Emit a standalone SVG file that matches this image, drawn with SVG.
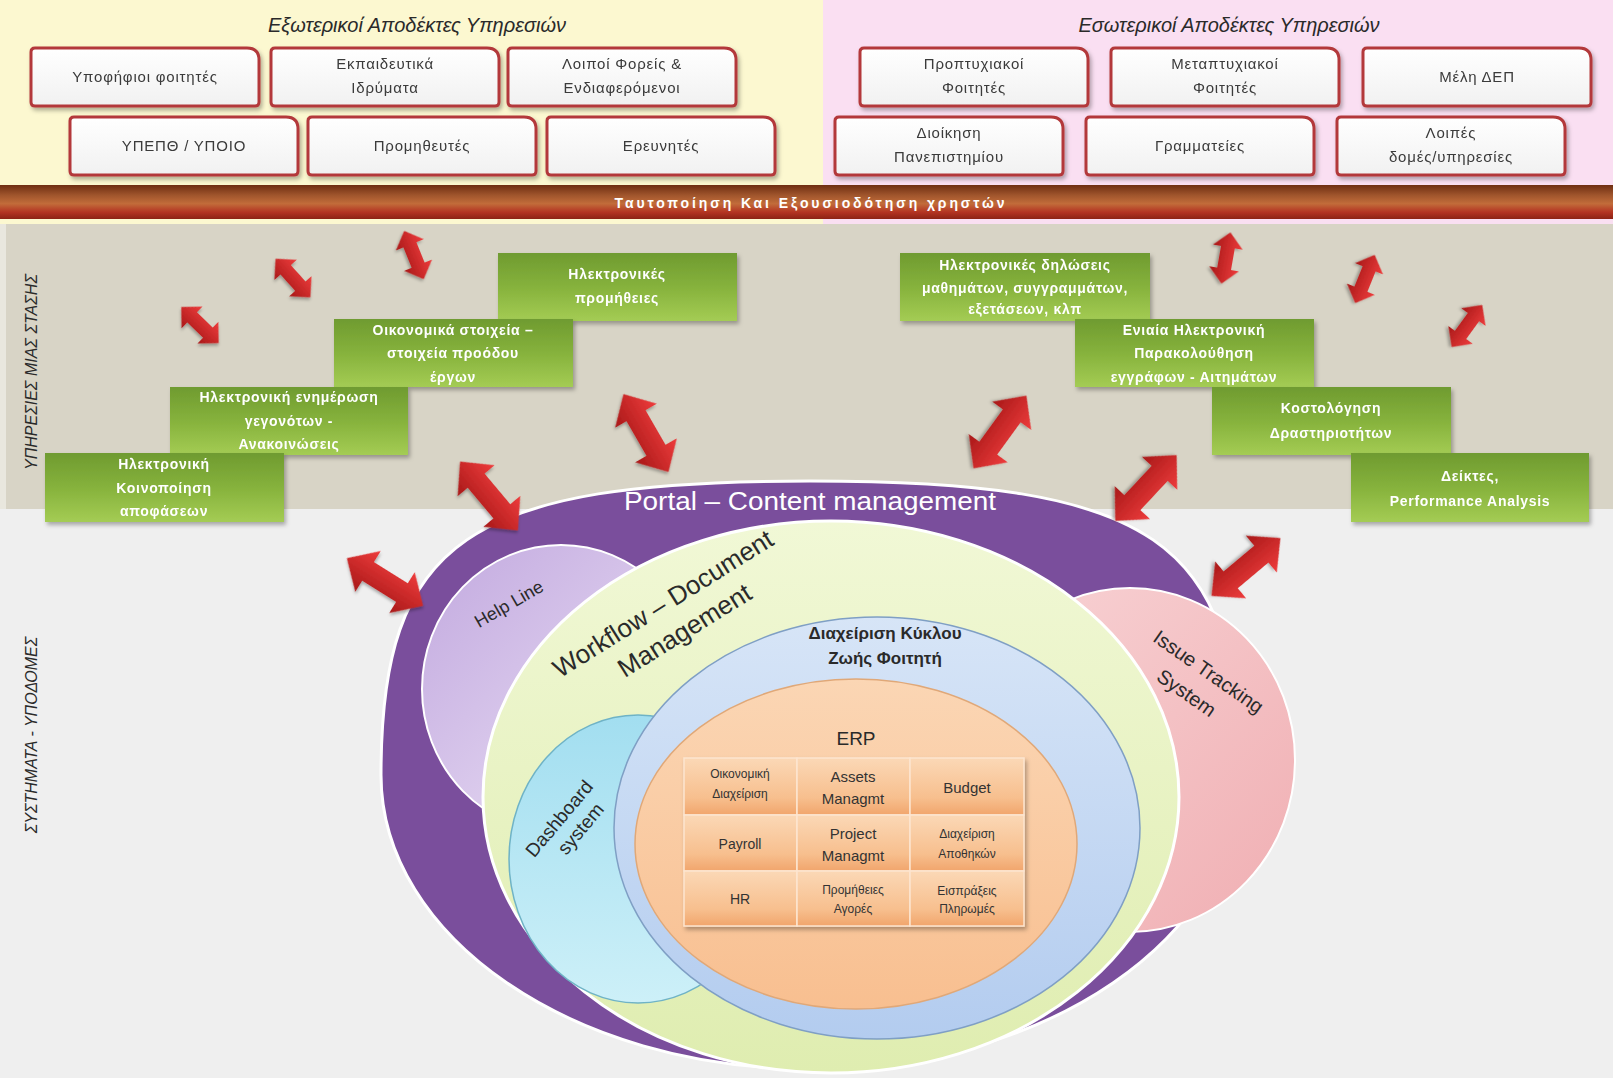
<svg xmlns="http://www.w3.org/2000/svg" xmlns:xlink="http://www.w3.org/1999/xlink" width="1613" height="1078" viewBox="0 0 1613 1078">
<defs>
<style>
.tb{font-family:"Liberation Sans",Arial,sans-serif;font-size:15px;fill:#3a3a3a;text-anchor:middle;letter-spacing:0.8px}
.gt{font-family:"Liberation Sans",Arial,sans-serif;font-size:14px;font-weight:bold;fill:#ffffff;text-anchor:middle;letter-spacing:0.7px}
.ttl{font-family:"Liberation Sans",Arial,sans-serif;font-size:20px;font-style:italic;fill:#2a2a2a;text-anchor:middle}
.vl{font-family:"Liberation Sans",Arial,sans-serif;font-size:16px;font-style:italic;fill:#2a2a2a;text-anchor:middle}
.sys{font-family:"Liberation Sans",Arial,sans-serif;fill:#2a2a2a;text-anchor:middle}
.cell{font-family:"Liberation Sans",Arial,sans-serif;fill:#333333;text-anchor:middle}
.arrow{fill:url(#arG);filter:url(#sh2)}
</style>
<linearGradient id="boxG" x1="0" y1="0" x2="0" y2="1"><stop offset="0" stop-color="#ffffff"/><stop offset="1" stop-color="#f1f1f1"/></linearGradient>
<linearGradient id="grG" x1="0" y1="0" x2="0" y2="1"><stop offset="0" stop-color="#6f9b30"/><stop offset="0.5" stop-color="#86b23c"/><stop offset="1" stop-color="#a4cc54"/></linearGradient>
<linearGradient id="bandG" x1="0" y1="0" x2="0" y2="1"><stop offset="0" stop-color="#6e2e12"/><stop offset="0.3" stop-color="#a0552c"/><stop offset="0.55" stop-color="#c26c3a"/><stop offset="0.8" stop-color="#b33322"/><stop offset="1" stop-color="#8c2214"/></linearGradient>
<linearGradient id="arG" x1="0" y1="0" x2="0" y2="1"><stop offset="0" stop-color="#ee3c3c"/><stop offset="1" stop-color="#a81818"/></linearGradient>
<linearGradient id="helpG" x1="0" y1="0" x2="1" y2="1"><stop offset="0" stop-color="#c2a9df"/><stop offset="1" stop-color="#efe6f7"/></linearGradient>
<linearGradient id="wfG" x1="0" y1="0" x2="0" y2="1"><stop offset="0" stop-color="#f1f8d6"/><stop offset="1" stop-color="#dfedb0"/></linearGradient>
<linearGradient id="dbG" x1="0" y1="0" x2="0" y2="1"><stop offset="0" stop-color="#a2def0"/><stop offset="1" stop-color="#cdf0f8"/></linearGradient>
<linearGradient id="blG" x1="0" y1="0" x2="0" y2="1"><stop offset="0" stop-color="#d7e5f7"/><stop offset="1" stop-color="#b3ccef"/></linearGradient>
<linearGradient id="erpG" x1="0" y1="0" x2="0" y2="1"><stop offset="0" stop-color="#fbd6b4"/><stop offset="1" stop-color="#f8bf90"/></linearGradient>
<linearGradient id="itG" x1="0" y1="0" x2="1" y2="1"><stop offset="0" stop-color="#f8d4d6"/><stop offset="1" stop-color="#f0aeb2"/></linearGradient>
<linearGradient id="cellG" x1="0" y1="0" x2="0" y2="1"><stop offset="0" stop-color="#fbd8b6"/><stop offset="0.7" stop-color="#f7bf8e"/><stop offset="1" stop-color="#f1a56c"/></linearGradient>
<filter id="sh" x="-10%" y="-10%" width="125%" height="135%"><feDropShadow dx="2" dy="3" stdDeviation="2" flood-color="#000" flood-opacity="0.3"/></filter>
<filter id="sh2" x="-20%" y="-20%" width="150%" height="150%"><feDropShadow dx="1.5" dy="2" stdDeviation="1.5" flood-color="#000" flood-opacity="0.3"/></filter>
<path id="box" d="M4,0 H216 Q228,0 228,12 V54 Q228,58 224,58 H4 Q0,58 0,54 V4 Q0,0 4,0 Z" fill="url(#boxG)" stroke="#b3393a" stroke-width="3"/>
<path id="arS" d="M-26,0 L-11,-15 L-11,-7 L11,-7 L11,-15 L26,0 L11,15 L11,7 L-11,7 L-11,15 Z"/>
<path id="arL" d="M-45,0 L-20,-24 L-20,-11 L20,-11 L20,-24 L45,0 L20,24 L20,11 L-20,11 L-20,24 Z"/>
</defs>

<!-- backgrounds -->
<rect x="0" y="0" width="823" height="224" fill="#fcf8d0"/>
<rect x="823" y="0" width="790" height="224" fill="#fadff2"/>
<rect x="0" y="224" width="1613" height="285" fill="#d8d4c6"/>
<rect x="0" y="224" width="6" height="285" fill="#e9e7de"/>
<rect x="0" y="509" width="1613" height="569" fill="#efefef"/>
<rect x="0" y="185" width="1613" height="34" fill="url(#bandG)"/>
<text x="811" y="208" font-family="Liberation Sans, Arial, sans-serif" font-size="14" font-weight="bold" fill="#ffffff" text-anchor="middle" letter-spacing="2.9">Ταυτοποίηση Και Εξουσιοδότηση χρηστών</text>

<text class="ttl" x="417" y="32">Εξωτερικοί Αποδέκτες Υπηρεσιών</text>
<text class="ttl" x="1229" y="32">Εσωτερικοί Αποδέκτες Υπηρεσιών</text>

<text class="vl" transform="translate(37,372) rotate(-90)">ΥΠΗΡΕΣΙΕΣ ΜΙΑΣ ΣΤΑΣΗΣ</text>
<text class="vl" transform="translate(37,735) rotate(-90)">ΣΥΣΤΗΜΑΤΑ - ΥΠΟΔΟΜΕΣ</text>

<!-- top recipient boxes -->
<g id="n-ypopsifioi" filter="url(#sh)"><use href="#box" x="31" y="48"/><text class="tb" x="145" y="82">Υποφήφιοι φοιτητές</text></g>
<g id="n-ekpaideutika" filter="url(#sh)"><use href="#box" x="271" y="48"/><text class="tb" x="385" y="69">Εκπαιδευτικά</text><text class="tb" x="385" y="93">Ιδρύματα</text></g>
<g id="n-loipoi-foreis" filter="url(#sh)"><use href="#box" x="508" y="48"/><text class="tb" x="622" y="69">Λοιποί Φορείς &amp;</text><text class="tb" x="622" y="93">Ενδιαφερόμενοι</text></g>
<g id="n-proptyxiakoi" filter="url(#sh)"><use href="#box" x="860" y="48"/><text class="tb" x="974" y="69">Προπτυχιακοί</text><text class="tb" x="974" y="93">Φοιτητές</text></g>
<g id="n-metaptyxiakoi" filter="url(#sh)"><use href="#box" x="1111" y="48"/><text class="tb" x="1225" y="69">Μεταπτυχιακοί</text><text class="tb" x="1225" y="93">Φοιτητές</text></g>
<g id="n-meli-dep" filter="url(#sh)"><use href="#box" x="1363" y="48"/><text class="tb" x="1477" y="82">Μέλη ΔΕΠ</text></g>
<g id="n-ypepth" filter="url(#sh)"><use href="#box" x="70" y="117"/><text class="tb" x="184" y="151">ΥΠΕΠΘ / ΥΠΟΙΟ</text></g>
<g id="n-promitheutes" filter="url(#sh)"><use href="#box" x="308" y="117"/><text class="tb" x="422" y="151">Προμηθευτές</text></g>
<g id="n-ereunites" filter="url(#sh)"><use href="#box" x="547" y="117"/><text class="tb" x="661" y="151">Ερευνητές</text></g>
<g id="n-dioikisi" filter="url(#sh)"><use href="#box" x="835" y="117"/><text class="tb" x="949" y="138">Διοίκηση</text><text class="tb" x="949" y="162">Πανεπιστημίου</text></g>
<g id="n-grammateies" filter="url(#sh)"><use href="#box" x="1086" y="117"/><text class="tb" x="1200" y="151">Γραμματείες</text></g>
<g id="n-loipes-domes" filter="url(#sh)"><use href="#box" x="1337" y="117"/><text class="tb" x="1451" y="138">Λοιπές</text><text class="tb" x="1451" y="162">δομές/υπηρεσίες</text></g>

<!-- systems -->
<g id="n-portal"><path d="M381,775 C381,540 467,481 810,481 C1153,481 1239,540 1239,775 C1239,937 1047,1069 810,1069 C573,1069 381,937 381,775 Z" fill="#7a4e9c" stroke="#ffffff" stroke-width="3"/>
<text x="810" y="510" font-family="Liberation Sans, Arial, sans-serif" font-size="25" fill="#ffffff" text-anchor="middle" textLength="372" lengthAdjust="spacingAndGlyphs">Portal – Content management</text></g>
<g id="n-helpline"><ellipse cx="561" cy="689" rx="139" ry="144" fill="url(#helpG)" stroke="#ffffff" stroke-width="2"/>
<text class="sys" font-size="18" transform="translate(509,604) rotate(-30)" y="6">Help Line</text></g>
<g id="n-issue"><ellipse cx="1130" cy="760" rx="165" ry="172" fill="url(#itG)" stroke="#ffffff" stroke-width="2"/>
<g transform="translate(1200,684) rotate(35)"><text class="sys" font-size="20" x="0" y="-8">Issue Tracking</text><text class="sys" font-size="20" x="-6" y="22">System</text></g></g>
<g id="n-workflow"><ellipse cx="831" cy="797" rx="348" ry="276" fill="url(#wfG)" stroke="#ffffff" stroke-width="3"/>
<g transform="translate(672,618) rotate(-32)"><text class="sys" font-size="26" x="0" y="-8">Workflow – Document</text><text class="sys" font-size="26" x="4" y="26">Management</text></g></g>
<g id="n-dashboard"><ellipse cx="638" cy="859" rx="129" ry="144" fill="url(#dbG)" stroke="#6fb3c6" stroke-width="1.5"/>
<g transform="translate(568,826) rotate(-50)"><text class="sys" font-size="19" x="0" y="-5">Dashboard</text><text class="sys" font-size="19" x="6" y="18">system</text></g></g>
<g id="n-lifecycle"><ellipse cx="877" cy="828" rx="263" ry="211" fill="url(#blG)" stroke="#7f9fc4" stroke-width="1.5"/>
<text class="sys" font-size="17" font-weight="bold" x="885" y="639">Διαχείριση Κύκλου</text><text class="sys" font-size="17" font-weight="bold" x="885" y="664">Ζωής Φοιτητή</text></g>
<g id="n-erp"><ellipse cx="856" cy="844" rx="221" ry="165" fill="url(#erpG)" stroke="#e0a878" stroke-width="1.5"/>
<text class="sys" font-size="19" x="856" y="745" fill="#333">ERP</text>
<g filter="url(#sh)" stroke="#fde5cf" stroke-width="1.5" fill="url(#cellG)">
<rect x="684" y="758" width="113" height="57"/><rect x="797" y="758" width="113" height="57"/><rect x="910" y="758" width="114" height="57"/>
<rect x="684" y="815" width="113" height="56"/><rect x="797" y="815" width="113" height="56"/><rect x="910" y="815" width="114" height="56"/>
<rect x="684" y="871" width="113" height="55"/><rect x="797" y="871" width="113" height="55"/><rect x="910" y="871" width="114" height="55"/>
</g>
<text class="cell" font-size="12" x="740" y="778">Οικονομική</text><text class="cell" font-size="12" x="740" y="798">Διαχείριση</text>
<text class="cell" font-size="15" x="853" y="782">Assets</text><text class="cell" font-size="15" x="853" y="804">Managmt</text>
<text class="cell" font-size="15" x="967" y="793">Budget</text>
<text class="cell" font-size="14" x="740" y="849">Payroll</text>
<text class="cell" font-size="15" x="853" y="839">Project</text><text class="cell" font-size="15" x="853" y="861">Managmt</text>
<text class="cell" font-size="12" x="967" y="838">Διαχείριση</text><text class="cell" font-size="12" x="967" y="858">Αποθηκών</text>
<text class="cell" font-size="14" x="740" y="904">HR</text>
<text class="cell" font-size="12" x="853" y="894">Προμήθειες</text><text class="cell" font-size="12" x="853" y="913">Αγορές</text>
<text class="cell" font-size="12" x="967" y="895">Εισπράξεις</text><text class="cell" font-size="12" x="967" y="913">Πληρωμές</text>
</g>

<!-- one-stop services (green) -->
<g id="n-e-promitheies" filter="url(#sh)"><rect x="498" y="253" width="239" height="68" fill="url(#grG)"/><text class="gt" x="617" y="279">Ηλεκτρονικές</text><text class="gt" x="617" y="303">προμήθειες</text></g>
<g id="n-oikonomika" filter="url(#sh)"><rect x="334" y="319" width="239" height="68" fill="url(#grG)"/><text class="gt" x="453" y="335">Οικονομικά στοιχεία –</text><text class="gt" x="453" y="358">στοιχεία προόδου</text><text class="gt" x="453" y="382">έργων</text></g>
<g id="n-enimerosi" filter="url(#sh)"><rect x="170" y="387" width="238" height="68" fill="url(#grG)"/><text class="gt" x="289" y="402">Ηλεκτρονική ενημέρωση</text><text class="gt" x="289" y="426">γεγονότων -</text><text class="gt" x="289" y="449">Ανακοινώσεις</text></g>
<g id="n-koinopoiisi" filter="url(#sh)"><rect x="45" y="453" width="239" height="69" fill="url(#grG)"/><text class="gt" x="164" y="469">Ηλεκτρονική</text><text class="gt" x="164" y="493">Κοινοποίηση</text><text class="gt" x="164" y="516">αποφάσεων</text></g>
<g id="n-dilwseis" filter="url(#sh)"><rect x="900" y="253" width="250" height="68" fill="url(#grG)"/><text class="gt" x="1025" y="270">Ηλεκτρονικές δηλώσεις</text><text class="gt" x="1025" y="293" letter-spacing="0.3">μαθημάτων, συγγραμμάτων,</text><text class="gt" x="1025" y="314">εξετάσεων, κλπ</text></g>
<g id="n-parakolouthisi" filter="url(#sh)"><rect x="1075" y="319" width="239" height="68" fill="url(#grG)"/><text class="gt" x="1194" y="335">Ενιαία Ηλεκτρονική</text><text class="gt" x="1194" y="358">Παρακολούθηση</text><text class="gt" x="1194" y="382">εγγράφων - Αιτημάτων</text></g>
<g id="n-kostologisi" filter="url(#sh)"><rect x="1212" y="387" width="239" height="68" fill="url(#grG)"/><text class="gt" x="1331" y="413">Κοστολόγηση</text><text class="gt" x="1331" y="438">Δραστηριοτήτων</text></g>
<g id="n-deiktes" filter="url(#sh)"><rect x="1351" y="453" width="238" height="69" fill="url(#grG)"/><text class="gt" x="1470" y="481">Δείκτες,</text><text class="gt" x="1470" y="506">Performance Analysis</text></g>

<!-- connectors: double arrows -->
<g id="connectors">
<use href="#arS" class="arrow" transform="translate(200,325) rotate(44)"/>
<use href="#arS" class="arrow" transform="translate(293,278) rotate(48)"/>
<use href="#arS" class="arrow" transform="translate(414,255) rotate(68)"/>
<use href="#arS" class="arrow" transform="translate(1226,258) rotate(100)"/>
<use href="#arS" class="arrow" transform="translate(1365,279) rotate(112)"/>
<use href="#arS" class="arrow" transform="translate(1467,326) rotate(126)"/>
<use href="#arL" class="arrow" transform="translate(646,433) rotate(60)"/>
<use href="#arL" class="arrow" transform="translate(489,496) rotate(50)"/>
<use href="#arL" class="arrow" transform="translate(385,582) rotate(32)"/>
<use href="#arL" class="arrow" transform="translate(1000,432) rotate(126)"/>
<use href="#arL" class="arrow" transform="translate(1146,488) rotate(133)"/>
<use href="#arL" class="arrow" transform="translate(1246,567) rotate(140)"/>
</g>
</svg>
